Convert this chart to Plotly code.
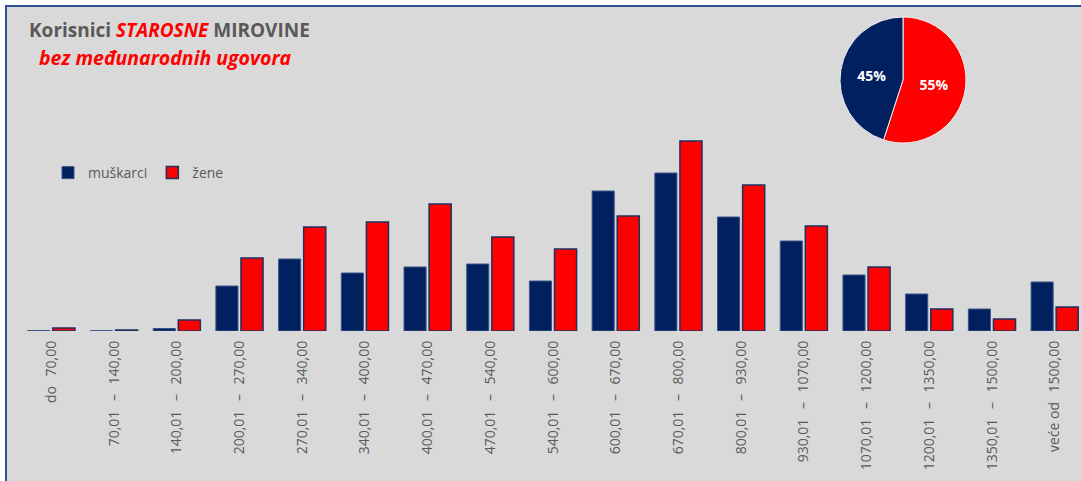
import plotly.graph_objects as go

SEP = "\u00a0\u00a0\u2009–\u00a0\u00a0\u2009"

categories = [
    "do\u00a0\u00a0\u200970,00",
    "70,01" + SEP + "140,00",
    "140,01" + SEP + "200,00",
    "200,01" + SEP + "270,00",
    "270,01" + SEP + "340,00",
    "340,01" + SEP + "400,00",
    "400,01" + SEP + "470,00",
    "470,01" + SEP + "540,00",
    "540,01" + SEP + "600,00",
    "600,01" + SEP + "670,00",
    "670,01" + SEP + "800,00",
    "800,01" + SEP + "930,00",
    "930,01" + SEP + "1070,00",
    "1070,01" + SEP + "1200,00",
    "1200,01" + SEP + "1350,00",
    "1350,01" + SEP + "1500,00",
    "veće od\u00a0\u00a0\u20091500,00",
]
muskarci = [0.5, 0.3, 2.5, 45, 72, 58, 64, 67, 50, 140, 158, 114, 90, 56, 37, 22, 49]
zene = [3, 1, 11, 73, 104, 109, 127, 94, 82, 115, 190, 146, 105, 64, 22, 12, 24]

pie_labels = ["žene", "muškarci"]
pie_values = [55, 45]

NAVY = "#002060"
RED = "#ff0000"
GRAY = "#595959"
FONT = "Open Sans"

W, H = 1081, 481
ML, MR, MT, MB = 20, 0, 10, 150
PW, PH = W - ML - MR, H - MT - MB


def px_x(px):
    return (px - ML) / PW


def px_y(py):
    return (H - MB - py) / PH


fig = go.Figure()
fig.add_trace(
    go.Bar(
        x=categories,
        y=muskarci,
        name="muškarci",
        marker=dict(color=NAVY, line=dict(color="#3a5488", width=1)),
    )
)
fig.add_trace(
    go.Bar(
        x=categories,
        y=zene,
        name="žene",
        marker=dict(color=RED, line=dict(color="#1f3060", width=1.5)),
    )
)
fig.add_trace(
    go.Pie(
        labels=pie_labels,
        values=pie_values,
        sort=False,
        direction="clockwise",
        rotation=0,
        marker=dict(colors=[RED, NAVY], line=dict(color="#f2f2f2", width=1)),
        texttemplate="%{value}%",
        textposition="inside",
        textfont=dict(family=FONT, size=14, color="white", weight="bold"),
        domain=dict(x=[px_x(840), px_x(966)], y=[px_y(143), px_y(17)]),
        showlegend=False,
        hoverinfo="label+percent",
    )
)

fig.update_layout(
    width=W,
    height=H,
    margin=dict(l=ML, r=MR, t=MT, b=MB),
    paper_bgcolor="white",
    plot_bgcolor="rgba(0,0,0,0)",
    barmode="group",
    bargap=0.2,
    bargroupgap=0.12,
    font=dict(family=FONT, color=GRAY),
    legend=dict(
        orientation="h",
        x=px_x(48),
        y=px_y(173),
        xanchor="left",
        yanchor="middle",
        font=dict(size=14, color=GRAY),
        bgcolor="rgba(0,0,0,0)",
        itemwidth=30,
        tracegroupgap=0,
    ),
    xaxis=dict(
        range=[-0.5, 16.42],
        tickangle=-90,
        tickfont=dict(size=14, color=GRAY),
        showgrid=False,
        showline=False,
        zeroline=False,
        ticks="",
        ticklabelstandoff=6,
    ),
    yaxis=dict(
        domain=[0, px_y(100)],
        range=[0, 231],
        visible=False,
    ),
    shapes=[
        dict(
            type="rect",
            xref="paper",
            yref="paper",
            x0=px_x(6),
            x1=px_x(1100),
            y0=px_y(500),
            y1=px_y(6),
            fillcolor="#d9d9d9",
            line=dict(color="#2f4f8f", width=2),
            layer="below",
        )
    ],
    annotations=[
        dict(
            xref="paper",
            yref="paper",
            x=px_x(27),
            y=px_y(30),
            xanchor="left",
            yanchor="middle",
            showarrow=False,
            text="<b>Korisnici <i><span style='color:#ff0000'>STAROSNE</span></i> MIROVINE</b>",
            font=dict(size=19, color=GRAY),
        ),
        dict(
            xref="paper",
            yref="paper",
            x=px_x(37),
            y=px_y(57),
            xanchor="left",
            yanchor="middle",
            showarrow=False,
            text="<b><i>bez međunarodnih ugovora</i></b>",
            font=dict(size=19.5, color=RED),
        ),
    ],
)

fig.write_html(
    "out.html",
    config={"displayModeBar": False},
    post_script="document.body.style.margin='0';document.body.style.overflow='hidden';",
)
